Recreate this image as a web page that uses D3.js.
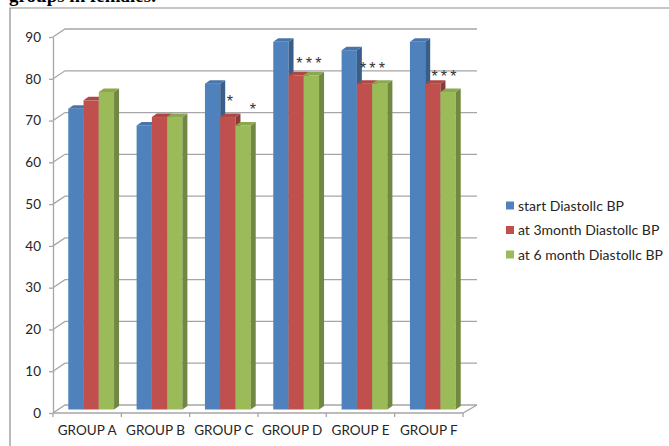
<!DOCTYPE html>
<html>
<head>
<meta charset="utf-8">
<script src="https://cdn.jsdelivr.net/npm/d3@7/dist/d3.min.js"></script>
<style>
  html, body { margin: 0; padding: 0; background: #fff; }
  svg { display: block; }
</style>
</head>
<body>
<svg id="chart" width="669" height="446"></svg>
<script>
// Diastolic blood pressure per study group, three time points
const groups = ["GROUP A", "GROUP B", "GROUP C", "GROUP D", "GROUP E", "GROUP F"];
const seriesNames = ["start Diastollc BP", "at 3month Diastollc BP", "at 6 month Diastollc BP"];
const startBP  = [72, 68, 78, 88, 86, 88];
const month3BP = [74, 70, 70, 80, 78, 78];
const month6BP = [76, 70, 68, 80, 78, 76];
const yTicks = [0, 10, 20, 30, 40, 50, 60, 70, 80, 90];

// significance markers: group, label, height (axis units), position across the cluster (bar widths)
const markGroups = ["GROUP C", "GROUP C", "GROUP D", "GROUP E", "GROUP F"];
const markLabels = ["*", "*", "***", "***", "***"];
const markValues = [75.6, 73.5, 84.5, 83.5, 81.4];
const markSlots  = [1.63, 3.14, 2.33, 2.02, 2.23];

const seriesValues = [startBP, month3BP, month6BP];
const colors = ["#4F81BD", "#C0504D", "#9BBB59"];

const svg = d3.select("#chart");
const font = "Lato, 'Open Sans', sans-serif";

// frame and cropped caption line
svg.append("text")
  .attr("x", 9).attr("y", 2)
  .attr("font-family", "'Liberation Serif', 'Times New Roman', serif")
  .attr("font-weight", "bold")
  .attr("font-size", 19)
  .attr("fill", "#000")
  .text("groups in females.");
svg.append("path")
  .attr("d", "M10,446 L10,8 L669,8")
  .attr("fill", "none")
  .attr("stroke", "#8c8c8c")
  .attr("stroke-width", 1.2);

// geometry of the oblique 3D box
const x0 = 53, x1 = 463, yBase = 413, yTop = 37;
const depth = { dx: 12, dy: -8 };      // back wall offset
const barShift = { dx: 4, dy: -3.5 };  // bar front plane offset
const barDepth = { dx: 5, dy: -3.5 };  // bar thickness

const y = d3.scaleLinear().domain([0, 90]).range([yBase, yTop]);
const xBand = d3.scaleBand().domain(groups).range([x0, x1])
  .paddingInner(0.33).paddingOuter(0.165);
const xSeries = d3.scaleBand().domain(d3.range(seriesNames.length))
  .range([0, xBand.bandwidth()]);

const gridColor = "#a6a6a6";

// back wall gridlines with the diagonal return to the axis
const grid = svg.append("g").attr("fill", "none").attr("stroke", gridColor).attr("stroke-width", 1.3);
yTicks.forEach(v => {
  const yy = y(v);
  grid.append("path")
    .attr("d", `M${x0},${yy} L${x0 + depth.dx},${yy + depth.dy} L${x1 + depth.dx + 2},${yy + depth.dy}`);
});
// floor front edge and right return
grid.append("path")
  .attr("d", `M${x0},${yBase} L${x1},${yBase} L${x1 + depth.dx + 2},${yBase + depth.dy}`);

// y axis
const yAxis = d3.axisLeft(y).tickValues(yTicks).tickSize(4).tickSizeOuter(0).tickPadding(8);
const gy = svg.append("g").attr("transform", `translate(${x0},0)`).call(yAxis);
gy.select(".domain").attr("stroke", gridColor).attr("stroke-width", 1.3);
gy.selectAll(".tick line").attr("stroke", gridColor).attr("stroke-width", 1.3);
gy.selectAll(".tick text").attr("font-family", font).attr("font-size", 13.5).attr("fill", "#262626");

// x axis labels and boundary ticks
const xAxis = d3.axisBottom(xBand).tickSize(0).tickPadding(12);
const gx = svg.append("g").attr("transform", `translate(0,${yBase})`).call(xAxis);
gx.select(".domain").remove();
gx.selectAll(".tick text").attr("font-family", font).attr("font-size", 13.5).attr("fill", "#262626");
const step = xBand.step();
d3.range(groups.length + 1).forEach(i => {
  const xx = x0 + i * step;
  svg.append("line")
    .attr("x1", xx).attr("x2", xx).attr("y1", yBase).attr("y2", yBase + 4)
    .attr("stroke", gridColor).attr("stroke-width", 1.3);
});

// bars, drawn left to right so nearer faces overlap correctly
const bars = svg.append("g");
groups.forEach((g, gi) => {
  seriesValues.forEach((vals, si) => {
    const v = vals[gi];
    const c = d3.color(colors[si]);
    const bx0 = xBand(g) + xSeries(si) + barShift.dx;
    const bx1 = bx0 + xSeries.bandwidth();
    const by0 = y(0) + barShift.dy;
    const byt = y(v) + barShift.dy;
    // front face
    bars.append("rect")
      .attr("x", bx0).attr("y", byt)
      .attr("width", bx1 - bx0).attr("height", by0 - byt)
      .attr("fill", colors[si]);
    // side face
    bars.append("path")
      .attr("d", `M${bx1},${byt} L${bx1 + barDepth.dx},${byt + barDepth.dy} L${bx1 + barDepth.dx},${by0 + barDepth.dy} L${bx1},${by0} Z`)
      .attr("fill", c.darker(0.9).formatHex());
    // top face
    bars.append("path")
      .attr("d", `M${bx0},${byt} L${bx1},${byt} L${bx1 + barDepth.dx},${byt + barDepth.dy} L${bx0 + barDepth.dx},${byt + barDepth.dy} Z`)
      .attr("fill", c.darker(0.3).formatHex());
  });
});

// significance markers
const markSpacing = 3.2;
markGroups.forEach((g, i) => {
  svg.append("text")
    .attr("x", xBand(g) + barShift.dx + markSlots[i] * xSeries.bandwidth())
    .attr("dx", markSpacing / 2)
    .attr("y", y(markValues[i]) + 9.5)
    .attr("text-anchor", "middle")
    .attr("font-family", "'Liberation Sans', Arial, sans-serif")
    .attr("font-size", 16)
    .attr("letter-spacing", markSpacing)
    .attr("fill", "#333")
    .text(markLabels[i]);
});

// legend
const legend = svg.append("g").attr("transform", "translate(506,0)");
const legendRows = [205.5, 230, 254.5];
seriesNames.forEach((name, i) => {
  legend.append("rect")
    .attr("x", 0).attr("y", legendRows[i] - 4)
    .attr("width", 8).attr("height", 8)
    .attr("fill", colors[i]);
  legend.append("text")
    .attr("x", 12).attr("y", legendRows[i])
    .attr("dy", "0.36em")
    .attr("font-family", font)
    .attr("font-size", 14)
    .attr("fill", "#262626")
    .text(name);
});
</script>
</body>
</html>
